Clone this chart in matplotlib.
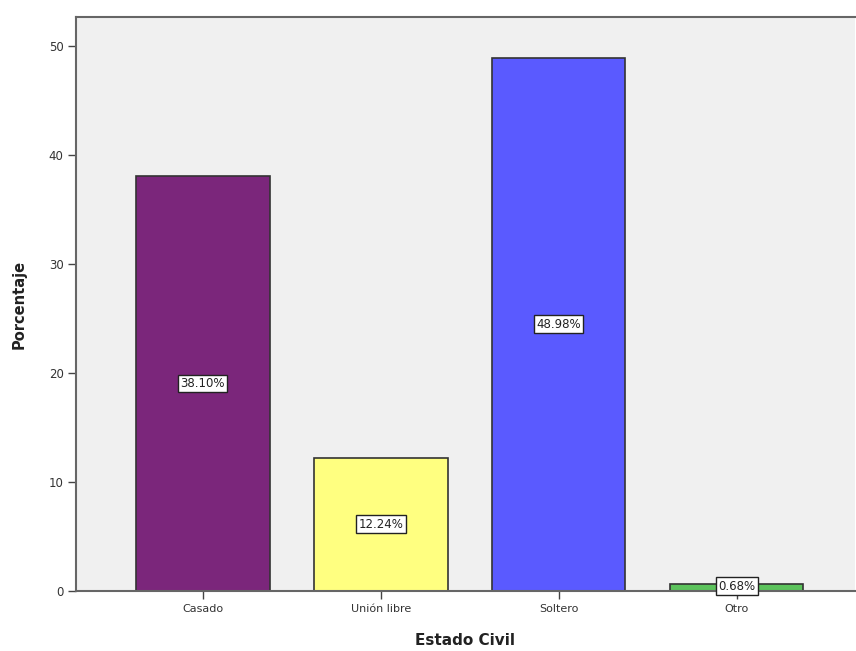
import matplotlib
matplotlib.use("Agg")
import matplotlib.pyplot as plt

categories = ["Casado", "Unión libre", "Soltero", "Otro"]
values = [38.10, 12.24, 48.98, 0.68]
labels = ["38.10%", "12.24%", "48.98%", "0.68%"]
colors = ["#7b267b", "#ffff80", "#5a5aff", "#5cc35c"]
yticks = [0, 10, 20, 30, 40, 50]

fig = plt.figure(figsize=(8.56, 6.51), dpi=100)
ax = fig.add_axes([76/856, 60/651, (855-76)/856, (591-17)/651])
ax.set_facecolor("#f0f0f0")
x = list(range(len(categories)))
ax.bar(x, values, width=0.75, color=colors, edgecolor="#333333", linewidth=1.2, zorder=2)
for xi, v, lab in zip(x, values, labels):
    yy = v / 2 if v > 3 else v / 2 + 0.1
    ax.text(xi, yy, lab, ha="center", va="center", fontsize=8.5, color="#222222",
            bbox=dict(boxstyle="square,pad=0.2", fc="white", ec="#222222", lw=1), zorder=3)
ax.set_xlim(-0.713, 3.665)
ax.set_ylim(0, 52.7)
ax.set_xticks(x)
ax.set_xticklabels(categories, fontsize=8, color="#333333")
ax.set_yticks(yticks)
ax.set_yticklabels([str(t) for t in yticks], fontsize=8.5, color="#333333")
ax.tick_params(axis="both", length=6, width=1, color="#444444", pad=3)
for s in ["left", "bottom", "top"]:
    ax.spines[s].set_color("#666666")
    ax.spines[s].set_linewidth(1.5)
ax.spines["right"].set_visible(False)
ax.set_xlabel("Estado Civil", fontsize=11, fontweight="bold", color="#222222", labelpad=14)
ax.set_ylabel("Porcentaje", fontsize=10.5, fontweight="bold", color="#222222", labelpad=16)
fig.savefig("out.png", dpi=100)
